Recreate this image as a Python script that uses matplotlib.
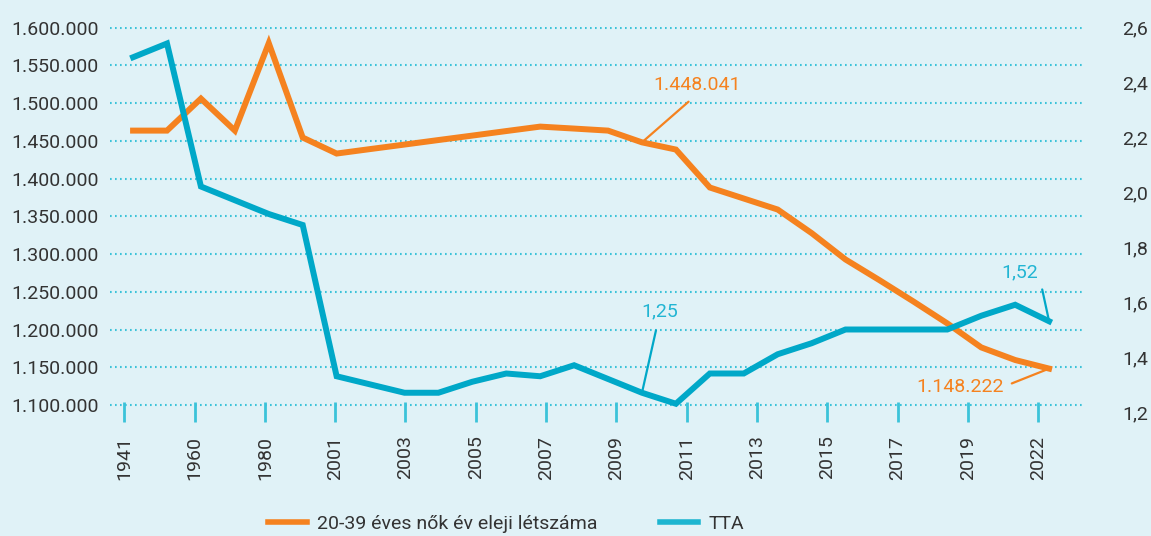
import matplotlib
matplotlib.use("Agg")
import matplotlib.pyplot as plt
from matplotlib.ticker import FuncFormatter
import numpy as np

plt.rcParams['font.family'] = ['Roboto', 'DejaVu Sans']

# adatok
years = [1941, 1949, 1960, 1970, 1980, 1990, 2001, 2002, 2003, 2004, 2005, 2006, 2007,
         2008, 2009, 2010, 2011, 2012, 2013, 2014, 2015, 2016, 2017, 2018, 2019, 2020,
         2021, 2022]
women = [1463600, 1463600, 1506000, 1463600, 1579500, 1454400, 1433200, 1439200, 1445100,
         1451100, 1457000, 1463000, 1468900, 1466300, 1463600, 1448041, 1438500, 1388200,
         1373600, 1359000, 1327800, 1292800, 1265400, 1237200, 1208100, 1176300, 1159600,
         1148222]
tta = [2.49, 2.54, 2.02, 1.97, 1.92, 1.88, 1.33, 1.30, 1.27, 1.27, 1.31, 1.34, 1.33,
       1.37, 1.32, 1.27, 1.23, 1.34, 1.34, 1.41, 1.45, 1.50, 1.50, 1.50, 1.50, 1.55,
       1.59, 1.53]
tick_labels = ['1941', '1960', '1980', '2001', '2003', '2005', '2007', '2009', '2011',
               '2013', '2015', '2017', '2019', '2022']
left_ticks = list(range(1100000, 1600001, 50000))
right_ticks = [1.2, 1.4, 1.6, 1.8, 2.0, 2.2, 2.4, 2.6]

bg = '#e0f2f7'
orange = '#f5821f'
blue = '#00a8c8'
blue_txt = '#22b5d3'
grid_c = '#3cc3d9'
txt = '#333333'

fig = plt.figure(figsize=(11.51, 5.36), dpi=100, facecolor=bg)
ax = fig.add_axes([110/1151, 124/536, 972/1151, 385/536])
ax.set_facecolor(bg)
ax2 = ax.twinx()

x = np.arange(len(years))
ax.plot(x, women, color=orange, lw=4.3, solid_joinstyle='miter', zorder=3)
ax2.plot(x, tta, color=blue, lw=4.3, solid_joinstyle='miter', zorder=3)

ax.set_xlim(-0.68, 27.97)
ax.set_ylim(1090700, 1600900)
ax2.set_ylim(1.2, 2.6)

ax.set_yticks(left_ticks)
ax.yaxis.set_major_formatter(FuncFormatter(lambda v, p: f"{int(v):,}".replace(',', '.')))
ax2.set_yticks(right_ticks)
ax2.yaxis.set_major_formatter(FuncFormatter(lambda v, p: f"{v:.1f}".replace('.', ',')))

ax.set_xticks(np.linspace(-0.26, 26.68, len(tick_labels)))
ax.set_xticklabels(tick_labels, rotation=90)

ax.grid(axis='y', color=grid_c, lw=1.5, linestyle=(0, (0.8, 1.6)), dash_capstyle='butt')
ax.set_axisbelow(True)

for a in (ax, ax2):
    for s in a.spines.values():
        s.set_visible(False)

ax.tick_params(axis='y', length=0, pad=8, labelsize=14, labelcolor=txt)
ax2.tick_params(axis='y', length=0, pad=29, labelsize=14, labelcolor=txt)
ax.tick_params(axis='x', direction='inout', length=14, width=2, color=grid_c,
               pad=10, labelsize=14, labelcolor=txt)

# feliratok
ax.annotate('1.448.041', xy=(15, women[15]), xytext=(55, 57), textcoords='offset pixels',
            ha='center', va='center', color=orange, fontsize=14,
            arrowprops=dict(arrowstyle='-', color=orange, lw=1.6, relpos=(0.5, 0),
                            shrinkA=5, shrinkB=0))
ax.annotate('1.148.222', xy=(27, women[27]), xytext=(-89, -18), textcoords='offset pixels',
            ha='center', va='center', color=orange, fontsize=14,
            arrowprops=dict(arrowstyle='-', color=orange, lw=1.6, relpos=(1, 0.5),
                            shrinkA=4, shrinkB=0))
ax2.annotate('1,25', xy=(15, tta[15]), xytext=(18, 81), textcoords='offset pixels',
             ha='center', va='center', color=blue_txt, fontsize=14,
             arrowprops=dict(arrowstyle='-', color=blue, lw=1.6, relpos=(0.45, 0),
                             shrinkA=5, shrinkB=0))
ax2.annotate('1,52', xy=(27, tta[27]), xytext=(-29, 49), textcoords='offset pixels',
             ha='center', va='center', color=blue_txt, fontsize=14,
             arrowprops=dict(arrowstyle='-', color=blue, lw=1.6, relpos=(1, 0.5),
                             shrinkA=4, shrinkB=0))

h1, = ax.plot([], [], color=orange, lw=4)
h2, = ax.plot([], [], color='#1db5d0', lw=4)
fig.legend([h1, h2], ['20-39 éves nők év eleji létszáma', 'TTA'], ncol=2,
           loc='center', bbox_to_anchor=(506/1151, 12/536), frameon=False,
           fontsize=14, handlelength=2.0, handletextpad=0.5, columnspacing=3.2,
           borderpad=0, labelcolor=txt)

fig.savefig('out.png', dpi=100, facecolor=bg)
